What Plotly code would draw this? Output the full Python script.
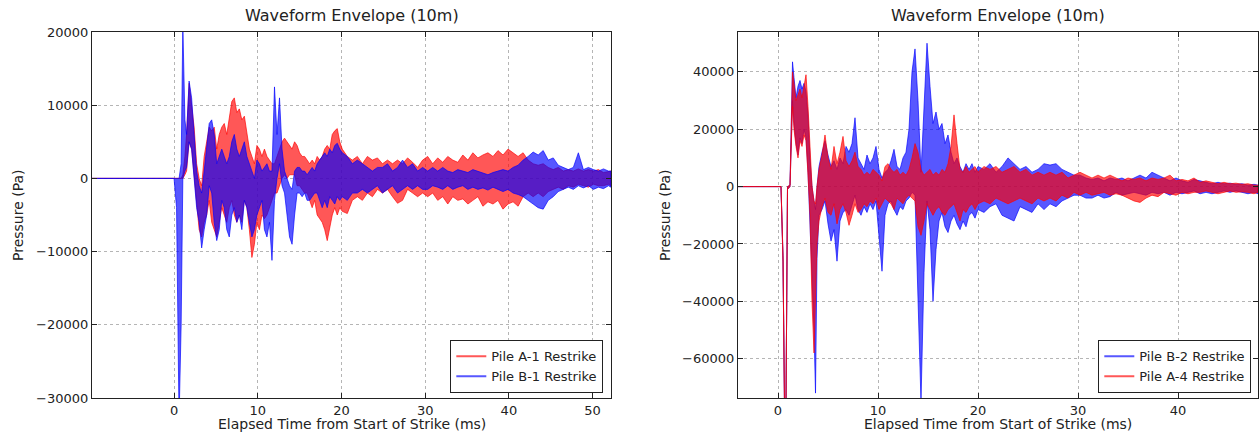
import plotly.graph_objects as go

# ---------------- Left panel data (time in ms, pressure in kPa) ----------------
left_t = [-10, 0.0, 0.3, 0.6, 0.85, 1.05, 1.3,
          1.5, 1.8, 2.1, 2.4, 2.7, 3.0, 3.3, 3.6, 3.9, 4.2, 4.5, 4.8, 5.1, 5.4, 5.7, 6.0, 6.3, 6.6, 6.9,
          7.2, 7.5, 7.8, 8.1, 8.4, 8.7, 9.0, 9.3, 9.6, 9.9,
          10.2, 10.5, 10.8, 11.1, 11.4, 11.7, 12.0, 12.3, 12.6, 12.9, 13.2, 13.5, 13.8, 14.1, 14.4, 14.7,
          15.0, 15.3, 15.6, 15.9, 16.2, 16.5, 16.8, 17.1, 17.4, 17.7, 18.0, 18.3, 18.6, 18.9, 19.2, 19.5,
          19.8, 20.1,
          20.7, 21.3, 21.9, 22.5, 23.1, 23.7, 24.3, 24.9, 25.5, 26.1, 26.7, 27.3, 27.9, 28.5, 29.1, 29.7,
          30.3, 30.9, 31.5, 32.1, 32.7, 33.3, 33.9, 34.5, 35.1, 35.7, 36.3, 36.9, 37.5, 38.1, 38.7, 39.3,
          39.9, 40.5, 41.1, 41.7, 42.3, 42.9, 43.5, 44.1, 44.7, 45.3, 45.9, 46.5, 47.1, 47.7, 48.3, 48.9,
          49.5, 50.1, 50.7, 51.3, 51.9, 52.2]

a1_hi = [0, 0, 0, 0, 0, 0.5, 3,
         6, 13, 10, 7, 2, 0, -1, 3, 5, 7, 6.5, 7, 4, 6, 7, 7.5, 6, 8, 10.5, 11, 9, 9.5, 8, 8.5, 6, 4, 3, 2, 4.5,
         4, 3, 4, 3, 2.5, 2, 2, 3, 4, 5, 5.5, 5, 4.5, 4, 5, 4.5, 3.5, 3, 3, 2.5, 2, 2.5, 2, 3, 2.5, 3, 4, 4.5,
         4, 6, 6.5, 6.8, 5, 4,
         3, 2.5, 3, 2, 3, 2.5, 2.8, 2, 2.5, 2, 2.5, 2, 2.8, 2.2, 1.5, 2.5, 3, 2, 2.8, 2.2, 3, 2.5, 2.2, 3.2,
         2.5, 3.5, 2.8, 3.2, 3.5, 3, 3.8, 3.2, 4, 3.5, 3, 3.5, 2.5, 2, 1.8, 2, 1.5, 1.2, 1.5, 1, 1.2, 1, 1.3,
         1, 1.2, 1, 1.2, 0.8, 1, 1]
a1_lo = [0, 0, 0, 0, 0, 0, 0.5,
         1, 5, 4, 1, -3, -7, -8, -6, -5, -3, -6, -7, -8, -6, -4, -5, -6, -4, -3, -5, -6, -5, -6, -3, -4, -7,
         -10.8, -9, -6,
         -7, -5, -5.5, -5, -4, -3, -2, -2, -1, 0, 0.5, 0, 0.5, 0.5, 0.5, -1, -1, -1.5, -2, -2, -3, -4, -3, -5,
         -5.5, -6, -7, -8.5, -7, -5, -4, -5, -4, -4.5,
         -4.8, -3, -2.5, -3, -2, -2.5, -1.5, -2, -1.5, -2.5, -3.4, -3, -1.5, -2, -2.5, -2, -2.5, -2, -3, -2.5,
         -3.5, -2.5, -3, -2.8, -3.5, -3, -2.5, -3.8, -3.2, -3.5, -3, -4.2, -3.5, -3.2, -3.8, -2.5, -2, -2.5,
         -2, -2.5, -1.8, -1.5, -1.2, -1.5, -1, -1.2, -0.8, -1, -1.2, -0.8, -1, -1, -0.8, -1]
b1_hi = [0, 0, 0, 0, 2, 21, 8,
         6, 13.3, 11, 6, 1, -1, -2, 1, 4, 7.5, 8, 6, 2, 3, 4, 3, 2, 3, 5, 6, 4, 3, 4, 5, 3, 2, 1, 0, 2.5,
         2, 1, 1.5, 2, 1, 1, 12.5, 6, 11, 4, 1, 0, -1, -1.5, 1, 1.5, 1.5, 1, 1, 0.5, 1, 1.5, 1, 2, 2.5, 3, 3.5,
         3, 4, 3.5, 4.5, 4.8, 4, 3.5,
         3, 2, 2.5, 2, 1.5, 1, 1.5, 1.5, 2, 1, 1.5, 2.5, 1.5, 2, 1, 1.5, 1, 1.5, 1, 1.5, 1, 0.8, 1.2, 1, 0.8,
         1.2, 1, 0.8, 0.5, 0.8, 1, 1.2, 1, 1.5, 1.8, 2.5, 3, 3.6, 3.2, 3.8, 2.5, 2.8, 1.8, 1.5, 1.2, 1.5, 3.5,
         1.2, 1.5, 1.2, 1, 1.3, 1, 1]
b1_lo = [0, 0, -4, -33, -20, 0, 1,
         1.5, 5, 4, 0, -4, -6, -9.5, -7, -5, -1, -2, -6, -8.5, -7, -3, -4, -7, -8, -5, -4, -6, -5, -7, -3, -4,
         -6, -8, -7, -5,
         -4, -3, -7, -8, -6, -11.2, -3, 0, 2, -1, -2, -5, -8, -9, -5, -2, -2, -2.5, -2, -3, -3, -2.5, -2, -2,
         -3, -4, -3, -4, -2.5, -3, -3.5, -2.5, -3, -2.5,
         -3, -2, -2, -1.5, -2, -1.5, -1, -2, -1.5, -1, -2, -1.5, -1, -1.5, -1, -1.5, -1.5, -1, -1.2, -1.5, -1,
         -1.5, -1.2, -1, -1.5, -1.2, -1.5, -1.3, -1.6, -1.2, -1.5, -1.8, -1.5, -2, -2.2, -2.5, -3, -3.5, -4,
         -4.2, -3, -2.5, -1.8, -1.5, -1.2, -1.5, -1, -1.3, -1, -1.5, -1.2, -1.4, -1, -1.2]

# ---------------- Right panel data (time in ms, pressure in kPa) ----------------
right_t = [-4, 0.0, 0.3, 0.5, 0.65, 0.8, 0.95, 1.2, 1.45, 1.6, 1.8, 2.0, 2.2, 2.4, 2.6, 2.8, 3.0, 3.2,
           3.4, 3.6, 3.75, 3.9, 4.1,
           4.4, 4.7, 5.0, 5.3, 5.6, 5.9, 6.2, 6.5, 6.8, 7.1, 7.4, 7.7, 8.0, 8.3, 8.6, 8.9, 9.2, 9.5, 9.8,
           10.1, 10.4, 10.7, 11.0, 11.3, 11.6, 11.9, 12.2, 12.5, 12.8, 13.1, 13.4, 13.7, 14.0, 14.3, 14.6,
           14.9, 15.2, 15.5, 15.8, 16.1, 16.4, 16.7, 17.0, 17.3, 17.6, 17.9, 18.2, 18.5, 18.8, 19.1, 19.4,
           19.7, 20.0,
           20.6, 21.2, 21.8, 22.4, 23.0, 23.6, 24.2, 24.8, 25.4, 26.0, 26.6, 27.2, 27.8, 28.4, 29.0, 29.6,
           30.2, 30.8, 31.4, 32.0, 32.6, 33.2, 33.8, 34.4, 35.0, 35.6, 36.2, 36.8, 37.4, 38.0, 38.6, 39.2,
           39.8, 40.4, 41.0, 41.6, 42.2, 42.8, 43.4, 44.0, 44.6, 45.2, 45.8, 46.4, 47.0, 47.6, 48.0]

b2_hi = [0, 0, 0, -24, -76, -76, 0, 0.5, 43.5, 38, 31, 35, 37, 34, 36, 33, 25, 10, 0, -5, -8, 0, 7,
         12, 16, 11, 7, 9, 6, 10, 8, 14, 12, 15, 24, 10, 8, 6, 11, 8, 10, 14, 6, 3, 5, 6, 9, 13, 7, 6, 10,
         12, 20, 40, 48, 30, 5, 25, 50, 35, 22, 26, 20, 22, 15, 18, 12, 8, 10, 7, 5, 8, 6, 8, 5, 7,
         6, 8, 5, 7, 10, 8, 6, 7, 5, 6, 8, 7.5, 8, 6, 5, 4, 4, 3, 2.5, 3, 2, 3, 2.5, 3, 2, 3, 4, 3, 5, 4,
         3, 2, 3, 2, 1.5, 2.5, 2, 1.5, 1, 1.5, 1, 1.2, 0.8, 1, 0.5, 0.8, 0.5]
b2_lo = [0, 0, 0, -26, -76, -76, -1, 0, 30, 22, 15, 11, 17, 15, 20, 17, 5, -8, -30, -50, -72, -25, -10,
         -8, -5, -13, -19, -15, -26, -12, -9, -8, -10, -7, -3, -8, -10, -7, -9, -6, -8, -5, -18, -29.5, -10,
         -6, -5, -8, -10, -7, -8, -5, -4, -2, -3, -40, -75, -30, -5, -15, -40, -22, -12, -9, -14, -16, -12,
         -10, -13, -15, -12, -14, -10, -9, -11, -8,
         -9, -7, -6, -10, -11, -12, -7, -8, -9, -6, -8, -6, -7, -5, -4, -3, -3, -4, -4, -3, -4, -3.5, -2, -3,
         -2.5, -2, -2.5, -3, -2, -2.5, -2, -3, -2, -2.5, -2, -1.5, -2.5, -2, -2.5, -2, -1.5, -2, -1.5, -2,
         -2.5, -2, -2.5]
a4_hi = [0, 0, 0, -24, -76, -76, 0, 0.5, 40, 36, 30, 32, 34, 31, 35, 39, 28, 12, 0, -5, -6, 0, 6,
         11, 18, 10, 6, 14, 8, 12, 17.5, 9, 7, 9, 12, 7, 6, 4, 5, 4, 6, 5, 4, 2, 7, 8, 6, 5, 6, 4, 5, 4, 6,
         10, 15, 12, 6, 4, 5, 6, 4, 5, 4, 6, 5, 8, 14, 25, 15, 6, 5, 7, 5, 6, 7, 5,
         7, 6, 7, 5, 6, 7, 5, 6, 4, 5, 4, 5, 4, 5, 3, 4, 5, 4, 3, 4, 3, 4, 3, 2, 3, 2.5, 3, 2, 3, 2.5, 3, 4,
         2, 2.5, 2, 3, 1.5, 2, 1.5, 1, 1.5, 1, 1.2, 0.8, 1, 0.5, 0.5]
a4_lo = [0, 0, 0, -26, -76, -76, -1, 0, 28, 20, 14, 10, 16, 14, 18, 16, 4, -10, -40, -58, -45, -20, -12,
         -7, -4, -9, -10, -6, -13, -8, -6, -9, -13.5, -10, -6, -9, -8, -6, -7, -5, -6, -4, -8, -6, -4, -5,
         -6, -8, -4, -5, -6, -4, -3, -4, -5, -14, -17, -12, -6, -8, -10, -8, -7, -9, -10, -8, -7, -6, -9,
         -12, -8, -9, -7, -6, -8, -6,
         -5, -6, -4, -5, -6, -5, -4, -5, -6, -4, -5, -4, -5, -3, -4, -2, -3, -2, -3, -2.5, -2, -3, -2.5, -3,
         -4, -5, -5.5, -4, -3, -3.5, -2, -2.5, -3, -2, -2.5, -2, -2, -1.5, -2, -2.5, -2, -1.5, -2, -1.8, -2,
         -2.5, -2]

for arr in (a1_hi, a1_lo, b1_hi, b1_lo):
    assert len(arr) == len(left_t), len(arr)
for arr in (b2_hi, b2_lo, a4_hi, a4_lo):
    assert len(arr) == len(right_t), len(arr)

RED = "rgba(255,0,0,0.66)"
BLUE = "rgba(0,0,255,0.66)"
FONT = "DejaVu Sans"
TXT = "#222222"


def band(t, hi, lo, color, xa, ya):
    x = list(t) + list(t)[::-1]
    y = [v * 1000 for v in hi] + [v * 1000 for v in lo][::-1]
    return go.Scatter(x=x, y=y, fill="toself", fillcolor=color, mode="lines",
                      line=dict(color=color, width=1), showlegend=False,
                      hoverinfo="skip", xaxis=xa, yaxis=ya)


def legend_entry(name, color, xa, ya, leg):
    return go.Scatter(x=[None], y=[None], mode="lines", name=name,
                      line=dict(color=color, width=2), xaxis=xa, yaxis=ya, legend=leg)


fig = go.Figure()
# left: red first, blue on top
fig.add_trace(band(left_t, a1_hi, a1_lo, RED, "x", "y"))
fig.add_trace(band(left_t, b1_hi, b1_lo, BLUE, "x", "y"))
fig.add_trace(legend_entry("Pile A-1 Restrike", RED, "x", "y", "legend"))
fig.add_trace(legend_entry("Pile B-1 Restrike", BLUE, "x", "y", "legend"))
# right: blue first, red on top
fig.add_trace(band(right_t, b2_hi, b2_lo, BLUE, "x2", "y2"))
fig.add_trace(band(right_t, a4_hi, a4_lo, RED, "x2", "y2"))
fig.add_trace(legend_entry("Pile B-2 Restrike", BLUE, "x2", "y2", "legend2"))
fig.add_trace(legend_entry("Pile A-4 Restrike", RED, "x2", "y2", "legend2"))

W, H = 1260, 441
L1, R1 = 92, 611
L2, R2 = 738, 1258
TOP, BOT = 32, 398

axis_common = dict(showline=True, linecolor="#222", linewidth=1.3, mirror="ticks",
                   ticks="inside", ticklen=5, tickcolor="#222", tickwidth=1,
                   showgrid=True, gridcolor="#b5b5b5", griddash="dot", gridwidth=1,
                   zeroline=False, automargin=False,
                   tickfont=dict(family=FONT, size=13, color=TXT))

fig.update_layout(
    width=W, height=H,
    margin=dict(l=0, r=0, t=0, b=0),
    paper_bgcolor="white", plot_bgcolor="white",
    font=dict(family=FONT, color=TXT),
    xaxis=dict(domain=[L1 / W, R1 / W], range=[-9.8, 52.2], anchor="y",
               tickvals=[0, 10, 20, 30, 40, 50], **axis_common),
    yaxis=dict(domain=[1 - BOT / H, 1 - TOP / H], range=[-30000, 20000], anchor="x",
               tickvals=[-30000, -20000, -10000, 0, 10000, 20000], tickformat="d", **axis_common),
    xaxis2=dict(domain=[L2 / W, R2 / W], range=[-4, 48], anchor="y2",
                tickvals=[0, 10, 20, 30, 40], **axis_common),
    yaxis2=dict(domain=[1 - BOT / H, 1 - TOP / H], range=[-73700, 53900], anchor="x2",
                tickvals=[-60000, -40000, -20000, 0, 20000, 40000], tickformat="d", **axis_common),
    legend=dict(x=603 / W, y=1 - 393 / H, xanchor="right", yanchor="bottom",
                bgcolor="white", bordercolor="#222", borderwidth=1.3,
                font=dict(family=FONT, size=13, color=TXT)),
    legend2=dict(x=1251 / W, y=1 - 393 / H, xanchor="right", yanchor="bottom",
                 bgcolor="white", bordercolor="#222", borderwidth=1.3,
                 font=dict(family=FONT, size=13, color=TXT)),
    showlegend=True,
)

annos = [
    dict(text="Waveform Envelope (10m)", x=(L1 + R1) / 2 / W, y=1 - 15 / H, size=16),
    dict(text="Waveform Envelope (10m)", x=(L2 + R2) / 2 / W, y=1 - 15 / H, size=16),
    dict(text="Elapsed Time from Start of Strike (ms)", x=(L1 + R1) / 2 / W, y=1 - 424 / H, size=14),
    dict(text="Elapsed Time from Start of Strike (ms)", x=(L2 + R2) / 2 / W, y=1 - 424 / H, size=14),
]
for a in annos:
    fig.add_annotation(text=a["text"], x=a["x"], y=a["y"], xref="paper", yref="paper",
                       xanchor="center", yanchor="middle", showarrow=False,
                       font=dict(family=FONT, size=a["size"], color=TXT))
for xp in (18, 665):
    fig.add_annotation(text="Pressure (Pa)", x=xp / W, y=1 - 215 / H, xref="paper", yref="paper",
                       xanchor="center", yanchor="middle", showarrow=False, textangle=-90,
                       font=dict(family=FONT, size=14, color=TXT))

fig.write_html("out.html",
               config={"displayModeBar": False},
               post_script="document.body.style.margin='0';document.body.style.overflow='hidden';")
